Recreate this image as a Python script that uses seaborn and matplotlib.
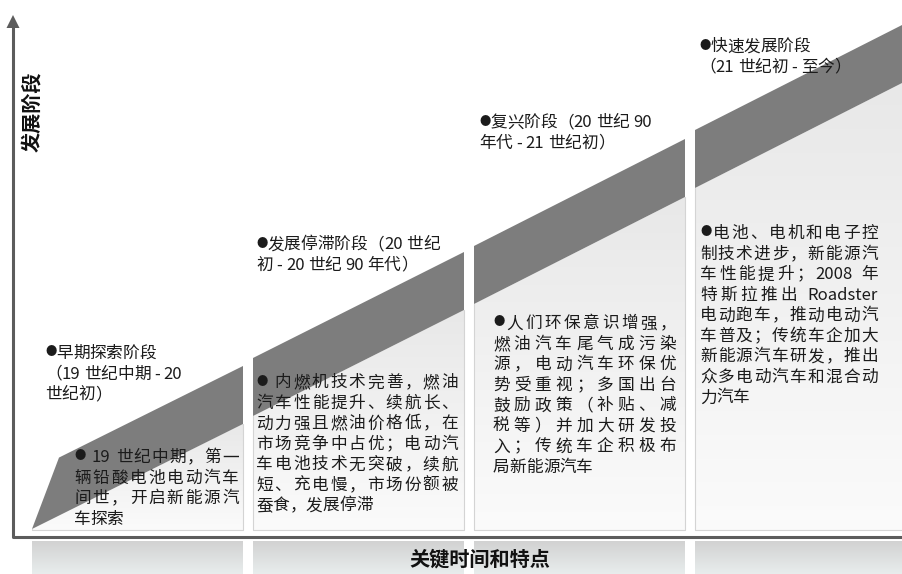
import numpy as np
import matplotlib
matplotlib.use("Agg")
import matplotlib.pyplot as plt
import seaborn as sns
from matplotlib.patches import Polygon
from matplotlib.colors import LinearSegmentedColormap
from matplotlib import font_manager, ft2font
from matplotlib.font_manager import FontProperties

# ---- content -------------------------------------------------------------
stage_headers = [
    ["●早期探索阶段", "（19 世纪中期 - 20", "世纪初）"],
    ["●发展停滞阶段（20 世纪", "初 - 20 世纪 90 年代）"],
    ["●复兴阶段（20 世纪 90", "年代 - 21 世纪初）"],
    ["●快速发展阶段", "（21 世纪初 - 至今）"],
]
stage_bodies = [
    ["● 19 世纪中期，第一", "辆铅酸电池电动汽车", "间世，开启新能源汽", "车探索"],
    ["● 内燃机技术完善，燃油", "汽车性能提升、续航长、", "动力强且燃油价格低，在",
     "市场竞争中占优；电动汽", "车电池技术无突破，续航", "短、充电慢，市场份额被",
     "蚕食，发展停滞"],
    ["●人们环保意识增强，", "燃油汽车尾气成污染", "源，电动汽车环保优",
     "势受重视；多国出台", "鼓励政策（补贴、减", "税等）并加大研发投",
     "入；传统车企积极布", "局新能源汽车"],
    ["●电池、电机和电子控", "制技术进步，新能源汽", "车性能提升；2008 年",
     "特斯拉推出 Roadster", "电动跑车，推动电动汽", "车普及；传统车企加大",
     "新能源汽车研发，推出", "众多电动汽车和混合动", "力汽车"],
]
# development level of the rising band (top edge) at the start / end of each stage
band_level_start = [66, 179, 291, 407]
band_level_end = [171, 285, 398, 514]
x_label = "关键时间和特点"
y_label = "发展阶段"

# ---- layout ----------------------------------------------------------------
COL_X0, COL_STEP, COL_W = 32, 221, 211
BAND_H = 58
BOX_FLOOR = 7
TAPER = [27, 0, 0, 0]
header_x = [45, 256, 479, 699]
header_y = [185, 294, 416, 492]
body_x = [74, 256, 493, 700]
body_w = [165, 202, 183, 178]
body_y = [81, 156, 215, 305]
LINE_STEP = 20.5
FS = 12.0

BAND_COLOR = "#7d7d7d"
AXIS_COLOR = "#5c5c5c"
TEXT_COLOR = "#1b1b1b"

sns.set_theme(style="white")
plt.rcParams["font.family"] = ["Noto Sans CJK SC", "DejaVu Sans"]

fig = plt.figure(figsize=(9.02, 5.74), dpi=100)
ax = fig.add_axes([0, 0, 1, 1])

# font advances for justified text
_prop = FontProperties(family=["Noto Sans CJK SC"])
_font = font_manager.get_font(font_manager.findfont(_prop))
_flags = ft2font.LoadFlags.NO_HINTING if hasattr(ft2font, "LoadFlags") else ft2font.LOAD_NO_HINTING


def advance(s, size):
    _font.set_size(size, 100)
    total = 0.0
    for ch in s:
        g = _font.load_char(ord(ch), flags=_flags)
        total += g.linearHoriAdvance / 65536.0
    return total


def split_units(line):
    units, buf = [], ""
    for ch in line:
        if ch.isascii() and ch.isalnum():
            buf += ch
        else:
            if buf:
                units.append(buf)
                buf = ""
            units.append(ch)
    if buf:
        units.append(buf)
    return units


def draw_line(x, y_center, line, width=None, size=FS, weight="normal"):
    units = split_units(line)
    sizes = [size * 0.68 if u == "●" else size for u in units]
    widths = [advance(u, s) for u, s in zip(units, sizes)]
    gap = 0.0
    if width is not None and len(units) > 1:
        gap = (width - sum(widths)) / (len(units) - 1)
    px = size * 100 / 72
    baseline = y_center - 0.38 * px
    cx = x
    for u, s, w in zip(units, sizes, widths):
        if u == "●":
            ax.text(cx + w / 2, y_center, u, fontsize=s, ha="center", va="center",
                    color=TEXT_COLOR, zorder=6)
        elif u != " ":
            ax.text(cx, baseline, u, fontsize=s, ha="left", va="baseline",
                    color=TEXT_COLOR, fontweight=weight, zorder=6)
        cx += w + gap


def gradient_fill(verts, top_color, bottom_color, zorder):
    poly = Polygon(verts, closed=True, facecolor="none", edgecolor="none")
    ax.add_patch(poly)
    xs = [v[0] for v in verts]
    ys = [v[1] for v in verts]
    cmap = LinearSegmentedColormap.from_list("fade", [bottom_color, top_color])
    grad = np.linspace(0, 1, 256).reshape(-1, 1)
    im = ax.imshow(grad, extent=[min(xs), max(xs), min(ys), max(ys)], origin="lower",
                   cmap=cmap, aspect="auto", zorder=zorder, interpolation="bicubic")
    im.set_clip_path(poly)


for i in range(4):
    left = COL_X0 + i * COL_STEP
    right = left + COL_W
    top_l, top_r = band_level_start[i], band_level_end[i]
    bot_l, bot_r = top_l - BAND_H, top_r - BAND_H
    slope = (top_r - top_l) / COL_W
    bot_l_c = max(bot_l, BOX_FLOOR)

    # stage box under the band
    gradient_fill([(left, bot_l_c), (right, bot_r), (right, BOX_FLOOR), (left, BOX_FLOOR)],
                  "#e8e8e8", "#fbfbfb", 1)
    ax.plot([left, left, right, right], [bot_l_c, BOX_FLOOR, BOX_FLOOR, bot_r],
            color="#d4d4d4", lw=0.8, zorder=2)

    # rising band
    tx = left + TAPER[i]
    band = Polygon([(left, bot_l_c), (tx, top_l + slope * TAPER[i]), (right, top_r), (right, bot_r)],
                   closed=True, facecolor=BAND_COLOR, edgecolor="none", zorder=3)
    ax.add_patch(band)

    # reflection strip below the axis
    gradient_fill([(left, -4), (right, -4), (right, -37), (left, -37)],
                  "#d2d2d2", "#e8eded", 1)

    for k, line in enumerate(stage_headers[i]):
        draw_line(header_x[i], header_y[i] - k * LINE_STEP, line)
    body = stage_bodies[i]
    for k, line in enumerate(body):
        w = body_w[i] if k < len(body) - 1 else None
        draw_line(body_x[i], body_y[i] - k * LINE_STEP, line, width=w)

# axes with arrow
ax.plot([13, 13, 902], [512, 0, 0], color=AXIS_COLOR, lw=2.2,
        solid_joinstyle="round", solid_capstyle="butt", zorder=5)
ax.add_patch(Polygon([(13, 522), (6.5, 509), (19.5, 509)], closed=True,
                     facecolor=AXIS_COLOR, edgecolor="none", zorder=5))

ax.text(480, -22, x_label, fontsize=14.5, fontweight="bold", ha="center", va="center",
        color="#111111", zorder=6)
ax.text(32, 425, y_label, fontsize=14.5, fontweight="bold", rotation=90,
        ha="center", va="center", color="#111111", zorder=6)

ax.set_xlim(0, 902)
ax.set_ylim(-37, 537)
ax.axis("off")
sns.despine(ax=ax, left=True, bottom=True)

fig.savefig("out.png", dpi=100, facecolor="white")
